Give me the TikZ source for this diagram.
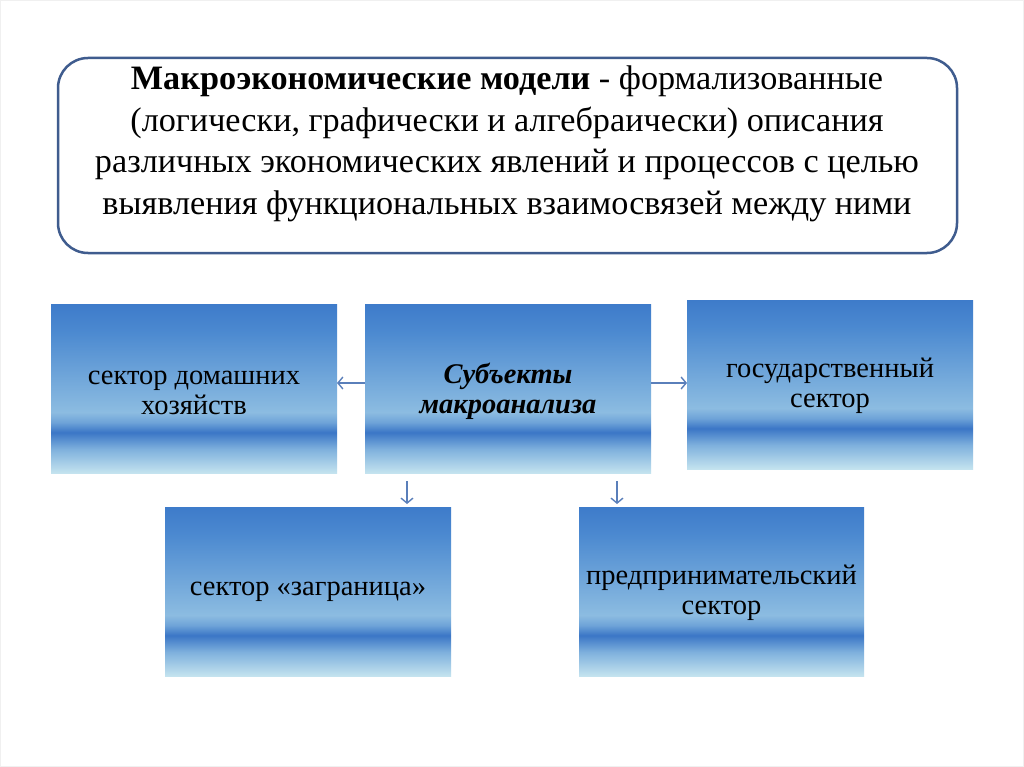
\documentclass[tikz,border=0pt]{standalone}
\usepackage{fontspec}
\setmainfont{Liberation Serif}
\usetikzlibrary{arrows.meta,shadings}
\definecolor{bl1}{HTML}{C4E3EF}
\definecolor{bl2}{HTML}{7FB1DD}
\definecolor{bl3}{HTML}{3B76C6}
\definecolor{bl4}{HTML}{6EA3D8}
\definecolor{bl5}{HTML}{8CBCE1}
\definecolor{bl6}{HTML}{4B89D0}
\definecolor{bl7}{HTML}{3E7BCA}
\definecolor{frameblue}{HTML}{3F5C8E}
\definecolor{arrowblue}{HTML}{5A7FBA}
\pgfdeclareverticalshading{boxshade}{100bp}{%
color(0bp)=(bl1); color(25bp)=(bl1); color(32bp)=(bl2); color(37bp)=(bl3);
color(40bp)=(bl4); color(43bp)=(bl5); color(67bp)=(bl6); color(75bp)=(bl7); color(100bp)=(bl7)}
\begin{document}
\begin{tikzpicture}[x=1pt,y=-1pt,
  sbox/.style={shading=boxshade, draw=none},
  btext/.style={font=\fontsize{28.5}{30}\selectfont, align=center, text=black},
  link/.style={draw=arrowblue, line width=1.4pt, -{Straight Barb[length=5pt,width=12pt]}}]
\useasboundingbox (0,0) rectangle (1024,767);
\fill[white] (0,0) rectangle (1024,767);
\draw[black!6, line width=1pt] (0.5,0.5) rectangle (1023.5,766.5);
% top box
\draw[frameblue, line width=2.5pt, rounded corners=30pt, fill=white] (58,58) rectangle (957,253);
\node[font=\fontsize{34.2}{41.5}\selectfont, align=center] (def) at (507,144)
 {\textbf{Макроэкономические модели} - формализованные\\
 (логически, графически и алгебраически) описания\\
 различных экономических явлений и процессов с целью\\
 выявления функциональных взаимосвязей между ними};
% boxes
\path[sbox] (51,304) rectangle (337,473);
\path[sbox] (365,304) rectangle (651,473);
\path[sbox] (687,300) rectangle (973,469);
\path[sbox] (165,507) rectangle (451,676);
\path[sbox] (579,507) rectangle (864,676);
\node[inner sep=0, minimum width=286pt, minimum height=169pt] (hh) at (194,388.5) {};
\node[inner sep=0, minimum width=286pt, minimum height=169pt] (subj) at (508,388.5) {};
\node[inner sep=0, minimum width=286pt, minimum height=169pt] (gov) at (830,384.5) {};
\node[inner sep=0, minimum width=286pt, minimum height=169pt] (ext) at (308,591.5) {};
\node[inner sep=0, minimum width=285pt, minimum height=169pt] (bus) at (721.5,591.5) {};
\node[btext] (hht) at (194,393) {сектор домашних\\хозяйств};
\node[btext, font=\fontsize{28.5}{30}\selectfont\bfseries\itshape] (subjt) at (508,391) {Субъекты\\макроанализа};
\node[btext] (govt) at (830,386) {государственный\\сектор};
\node[btext] (extt) at (308,592) {сектор «заграница»};
\node[btext] (bust) at (721.5,593) {предпринимательский\\сектор};
% connectors
\coordinate (a1) at (365,383); \coordinate (a1e) at (337,383);
\coordinate (a2) at (651,383); \coordinate (a2e) at (687,383);
\coordinate (a3) at (407,481); \coordinate (a3e) at (407,504);
\coordinate (a4) at (617,481); \coordinate (a4e) at (617,504);
\draw[link] (a1) -- (a1e);
\draw[link] (a2) -- (a2e);
\draw[link] (a3) -- (a3e);
\draw[link] (a4) -- (a4e);
\end{tikzpicture}
\end{document}
